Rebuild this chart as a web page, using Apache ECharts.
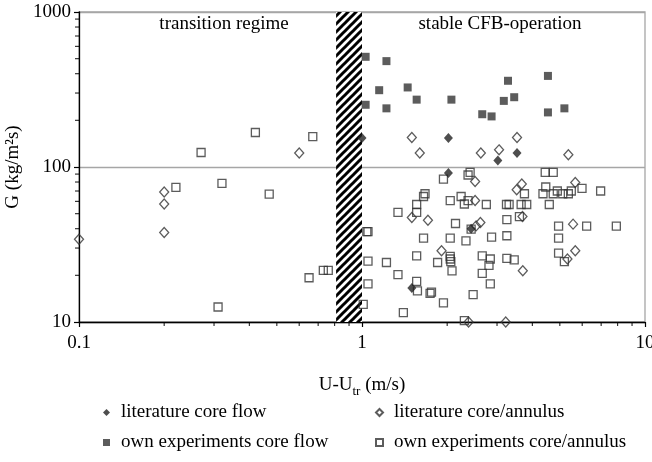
<!DOCTYPE html>
<html>
<head>
<meta charset="utf-8">
<title>G vs U-Utr</title>
<script src="https://cdn.jsdelivr.net/npm/echarts@6/dist/echarts.min.js"></script>
<style>
    html, body { margin: 0; padding: 0; background: #fff; }
    #chart { width: 652px; height: 462px; }
</style>
</head>
<body>
<div id="chart"></div>
<script>
// [U-Utr (m/s), G (kg/m2s)]
const litCoreFlow = [
    [1.0, 154], [2.02, 154], [3.02, 110], [3.53, 123], [2.02, 91.5],
    [2.43, 40], [1.5, 16.6]
];
const litCoreAnnulus = [
    [0.6, 123], [0.2, 68.9], [0.2, 57.7], [0.2, 37.8], [0.1, 34.2],
    [1.5, 155], [1.6, 123], [2.63, 123], [3.05, 129], [3.53, 155], [5.36, 120],
    [2.51, 80.7], [3.67, 77.6], [3.52, 71.3], [5.67, 79.5], [2.51, 60.8],
    [1.5, 47.2], [1.71, 45.4], [2.62, 43.8], [2.53, 41.7], [3.69, 48], [5.57, 42.8],
    [1.91, 28.8], [5.67, 28.8], [5.32, 25.5], [3.7, 21.4], [2.38, 10], [3.22, 10]
];
const ownCoreFlow = [
    [1.03, 514], [1.22, 482], [1.15, 313], [1.45, 326], [1.56, 272], [1.03, 252],
    [1.22, 239], [2.07, 272], [2.66, 219], [2.87, 212], [3.17, 267], [3.28, 360],
    [3.45, 282], [4.54, 387], [4.54, 225], [5.19, 239]
];
const ownCoreAnnulus = [
    [0.27, 124], [0.42, 167], [0.67, 157], [0.22, 73.8], [0.32, 78.4], [0.47, 66.9],
    [0.31, 12.5], [0.65, 19.3], [0.73, 21.5], [0.76, 21.5],
    [2.41, 92.3], [2.37, 88.8], [1.94, 83.6], [4.44, 92.3], [4.74, 92.3],
    [1.67, 67.2], [1.65, 64.5], [1.56, 57.3], [1.56, 50.9], [1.34, 50.9],
    [2.05, 60.6], [2.24, 64.5], [2.3, 57.7], [2.37, 60.6], [2.75, 57.3],
    [3.24, 57.3], [3.31, 57.3], [3.65, 57.3], [3.82, 57.3], [3.75, 67.2],
    [4.36, 67.2], [4.46, 74.3], [4.74, 67.2], [4.9, 70], [5.12, 67.2],
    [5.36, 67.2], [5.49, 70], [5.99, 72.7], [6.97, 70], [4.59, 57.3],
    [3.25, 45.8], [3.6, 47.8], [2.14, 43.2], [2.43, 39.7], [4.95, 41.6],
    [6.22, 41.6], [7.92, 41.6], [1.04, 38.3], [1.05, 38.3], [1.65, 34.8],
    [2.05, 34.8], [2.33, 33.4], [2.87, 35.3], [3.25, 36], [4.95, 34.8],
    [1.05, 24.7], [1.22, 24.2], [1.56, 26.7], [1.85, 24.2], [2.05, 26.5],
    [2.05, 25.5], [2.06, 24.5], [2.08, 21.4], [2.66, 26.7], [2.84, 25.5],
    [2.81, 23.2], [2.66, 20.6], [3.25, 25.7], [3.45, 25.2], [4.95, 27.8],
    [5.19, 24.5], [1.34, 20.2], [1.56, 18.3], [1.57, 15.9], [1.74, 15.3],
    [1.76, 15.6], [1.05, 17.6], [1.01, 13], [1.4, 11.5], [1.94, 13.3],
    [2.47, 15], [2.84, 17.6], [2.3, 10.2]
];

// transition band (hatched)
const hatchFrom = 0.81;
const hatchTo = 1.0;

// minor tick values of the two log axes
const xMinorTicks = [0.2, 0.3, 0.4, 0.5, 0.6, 0.7, 0.8, 0.9, 2, 3, 4, 5, 6, 7, 8, 9];
const yMinorTicks = [20, 30, 40, 50, 60, 70, 80, 90, 200, 300, 400, 500, 600, 700, 800, 900];

const FONT = '"Liberation Serif", "Times New Roman", serif';

function hatchPattern() {
    const s = 8;
    const c = document.createElement('canvas');
    c.width = s;
    c.height = s;
    const ctx = c.getContext('2d');
    ctx.fillStyle = '#fff';
    ctx.fillRect(0, 0, s, s);
    ctx.strokeStyle = '#000';
    ctx.lineWidth = 3;
    ctx.beginPath();
    ctx.moveTo(0, s); ctx.lineTo(s, 0);
    ctx.moveTo(-s / 2, s / 2); ctx.lineTo(s / 2, -s / 2);
    ctx.moveTo(s / 2, s * 1.5); ctx.lineTo(s * 1.5, s / 2);
    ctx.stroke();
    return c;
}

const myChart = echarts.init(document.getElementById('chart'));
const option = {
    animation: false,
    textStyle: { fontFamily: FONT },
    grid: {
        left: 79, right: 7, top: 12, bottom: 140,
        containLabel: false,
        outerBoundsMode: 'none',
        show: true,
        borderColor: '#a6a6a6',
        borderWidth: 1.3
    },
    graphic: [
        {
            type: 'text', x: 224, y: 24,
            style: { text: 'transition regime', font: '19px ' + FONT, fill: '#000', textAlign: 'center', textVerticalAlign: 'middle' }
        },
        {
            type: 'text', x: 500, y: 24,
            style: { text: 'stable CFB-operation', font: '19px ' + FONT, fill: '#000', textAlign: 'center', textVerticalAlign: 'middle' }
        }
    ],
    legend: [
        {
            orient: 'vertical', left: 103, top: 403, padding: 0,
            itemWidth: 7, itemHeight: 7, itemGap: 11,
            textStyle: { fontFamily: FONT, fontSize: 19, color: '#000', padding: [0, 0, 0, 6] },
            data: ['literature core flow', 'own experiments core flow']
        },
        {
            orient: 'vertical', left: 375, top: 403, padding: 0,
            itemWidth: 7, itemHeight: 7, itemGap: 11,
            textStyle: { fontFamily: FONT, fontSize: 19, color: '#000', padding: [0, 0, 0, 6] },
            data: ['literature core/annulus', 'own experiments core/annulus']
        }
    ],
    xAxis: {
        type: 'log', logBase: 10, min: 0.1, max: 10,
        name: 'U-U{sub|tr} (m/s)',
        nameLocation: 'middle', nameGap: 50,
        nameTextStyle: {
            fontFamily: FONT, fontSize: 19, color: '#000', lineHeight: 26,
            rich: { sub: { fontFamily: FONT, fontSize: 13, lineHeight: 13, verticalAlign: 'bottom', color: '#000' } }
        },
        axisLine: { lineStyle: { color: '#000', width: 1.3 } },
        axisTick: { length: 5, lineStyle: { color: '#000', width: 1.2 } },
        axisLabel: {
            margin: 12, color: '#000', fontFamily: FONT, fontSize: 19,
            formatter: v => String(+v.toPrecision(6))
        },
        splitLine: { show: false }
    },
    yAxis: {
        type: 'log', logBase: 10, min: 10, max: 1000,
        name: 'G (kg/m²s)',
        nameLocation: 'middle', nameGap: 48,
        nameTextStyle: { fontFamily: FONT, fontSize: 19, color: '#000' },
        axisLine: { lineStyle: { color: '#000', width: 1.3 } },
        axisTick: { length: 5, lineStyle: { color: '#000', width: 1.2 } },
        axisLabel: {
            margin: 8, color: '#000', fontFamily: FONT, fontSize: 19,
            formatter: v => String(+v.toPrecision(6))
        },
        splitLine: { show: true, lineStyle: { color: '#a6a6a6', width: 1.3 } }
    },
    series: [
        {
            name: 'literature core/annulus',
            type: 'scatter',
            symbol: 'diamond',
            symbolSize: [9, 10],
            itemStyle: { color: 'rgba(255,255,255,0)', borderColor: '#333', borderWidth: 1.3 },
            data: litCoreAnnulus
        },
        {
            name: 'own experiments core/annulus',
            type: 'scatter',
            symbol: 'rect',
            symbolSize: 8,
            itemStyle: { color: 'rgba(255,255,255,0)', borderColor: '#333', borderWidth: 1.3 },
            data: ownCoreAnnulus
        },
        {
            name: 'literature core flow',
            type: 'scatter',
            symbol: 'diamond',
            symbolSize: [9, 10],
            itemStyle: { color: '#222' },
            data: litCoreFlow
        },
        {
            name: 'own experiments core flow',
            type: 'scatter',
            symbol: 'rect',
            symbolSize: 8,
            itemStyle: { color: '#333' },
            data: ownCoreFlow
        },
        {
            // minor ticks on x axis, plus the hatched transition band
            type: 'scatter',
            z: 5,
            silent: true,
            clip: false,
            symbol: 'rect',
            symbolSize: [1.2, 4],
            symbolOffset: [0, 2],
            itemStyle: { color: '#000' },
            data: xMinorTicks.map(v => [v, 10]),
            markArea: {
                silent: true,
                itemStyle: { color: { image: hatchPattern(), repeat: 'repeat' } },
                data: [[{ coord: [hatchFrom, 10] }, { coord: [hatchTo, 1000] }]]
            }
        },
        {
            // minor ticks on y axis
            type: 'scatter',
            z: 5,
            silent: true,
            clip: false,
            symbol: 'rect',
            symbolSize: [4, 1.2],
            symbolOffset: [-2, 0],
            itemStyle: { color: '#000' },
            data: yMinorTicks.map(v => [0.1, v])
        }
    ]
};
myChart.setOption(option);
</script>
</body>
</html>
